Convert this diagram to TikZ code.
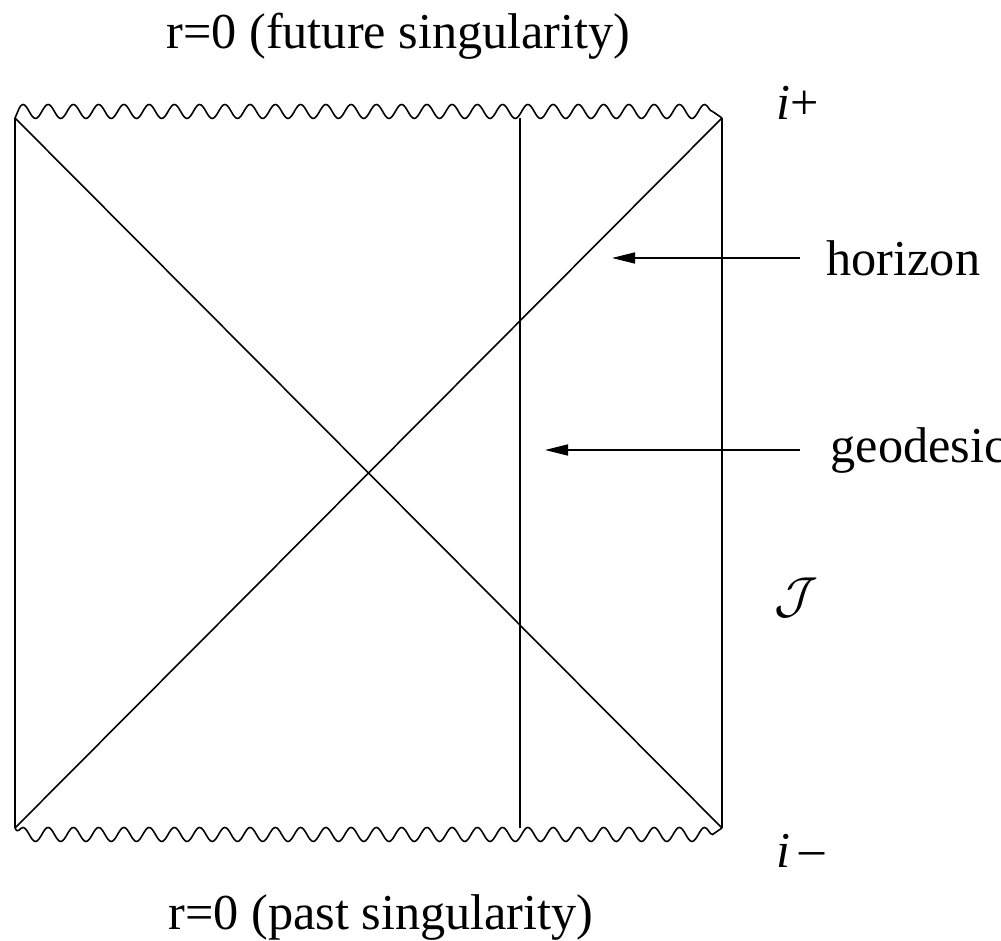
\documentclass[tikz,border=0pt]{standalone}
\usepackage{fontspec}
\setmainfont{Liberation Serif}
\usepackage{tikz}
\usetikzlibrary{positioning,arrows.meta,decorations.pathmorphing}

\begin{document}
\begin{tikzpicture}[
  font=\fontsize{14.3}{17}\selectfont,
  >={Triangle[length=0.23cm,width=0.11cm]},
  edge/.style={line width=0.45pt},
  sing/.style={line width=0.45pt, decorate, decoration={snake, amplitude=0.07cm, segment length=0.2525cm}},
  lbl/.style={inner sep=0pt, anchor=west},
  ptr/.style={->, line width=0.45pt},
]
\useasboundingbox (0,0) rectangle (10.01,9.41);

% Corners of the diagram
\coordinate (bl) at (0.15,1.13);
\coordinate (br) at (7.22,1.13);
\coordinate (tl) at (0.15,8.23);
\coordinate (tr) at (7.22,8.23);

% Sides and horizons
\draw[edge] (bl) -- (tl);
\draw[edge] (br) -- (tr);
\draw[edge] (bl) -- (tr);
\draw[edge] (tl) -- (br);

% Singularities
\draw[sing, decoration={raise=0.065cm}] (tl) -- (tr);
\draw[sing, decoration={raise=-0.065cm}] (bl) -- (br);

% Geodesic
\coordinate (gtop) at (5.20,8.23);
\coordinate (gbot) at (5.20,1.13);
\draw[edge] (gbot) -- (gtop);

% Labels
\node (fut) at (3.985,9.05) {r=0 (future singularity)};
\node (past) at (3.81,0.24) {r=0 (past singularity)};
\node[lbl] (iplus) at (7.76,8.38) {\textit{i}+};
\node[lbl] (iminus) at (7.76,0.90) {\textit{i}\,\raisebox{0.1ex}{--}};
\node[lbl] (scri) at (7.74,3.43) {$\mathcal{J}$};
\node[lbl] (horizon) at (8.26,6.83) {horizon};
\node[lbl] (geodesic) at (8.30,4.91) {geodesic};

% Pointers
\coordinate (hz) at (6.12,6.83);
\coordinate (gd) at (5.45,4.91);
\draw[ptr] ([xshift=-0.26cm]horizon.west) -- (hz);
\draw[ptr] ([xshift=-0.30cm]geodesic.west) -- (gd);

\end{tikzpicture}
\end{document}
